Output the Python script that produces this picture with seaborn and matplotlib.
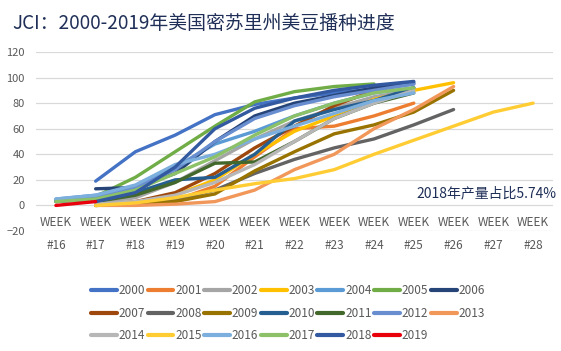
import matplotlib
matplotlib.use('Agg')
import matplotlib.pyplot as plt
import seaborn as sns
import numpy as np
import pandas as pd

nan = np.nan

# categories
week_nums = list(range(16, 29))
week_labels = ['WEEK\n#%d' % w for w in week_nums]

# planting progress (%), week 16 .. week 28
y2000 = [nan, 19, 42, 55, 71, 79, 84, 88, 91, 95, nan, nan, nan]
y2001 = [nan, 0, 1, 4, 15, 38, 60, 62, 70, 80, nan, nan, nan]
y2002 = [nan, 2, 6, 18, 35, 52, 66, 76, 85, 90, nan, nan, nan]
y2003 = [nan, 0, 2, 8, 20, 40, 58, 70, 83, 90, 96, nan, nan]
y2004 = [5, 8, 15, 30, 48, 58, 70, 80, 88, 92, nan, nan, nan]
y2005 = [3, 7, 22, 42, 62, 81, 89, 93, 95, nan, nan, nan, nan]
y2006 = [nan, 13, 14, 25, 50, 70, 80, 86, 92, 96, nan, nan, nan]
y2007 = [nan, 0, 3, 10, 25, 45, 62, 78, 90, nan, nan, nan, nan]
y2008 = [nan, 0, 1, 4, 12, 25, 36, 45, 52, 63, 75, nan, nan]
y2009 = [nan, 0, 1, 3, 9, 27, 42, 56, 63, 73, 90, nan, nan]
y2010 = [3, 5, 10, 20, 22, 40, 66, 75, 82, 92, nan, nan, nan]
y2011 = [nan, 3, 8, 18, 33, 34, 50, 68, 80, 88, nan, nan, nan]
y2012 = [4, 7, 14, 28, 50, 68, 78, 85, 90, 95, nan, nan, nan]
y2013 = [nan, 0, 0, 1, 3, 12, 28, 40, 60, 75, 93, nan, nan]
y2014 = [nan, 1, 3, 8, 18, 32, 50, 68, 80, 90, nan, nan, nan]
y2015 = [nan, 0, 2, 6, 12, 17, 21, 28, 40, 51, 62, 73, 80]
y2016 = [5, 8, 16, 32, 40, 52, 62, 72, 82, 88, nan, nan, nan]
y2017 = [3, 5, 12, 25, 38, 55, 70, 80, 88, 92, nan, nan, nan]
y2018 = [nan, 3, 10, 30, 60, 76, 84, 90, 94, 97, nan, nan, nan]
y2019 = [0, 3, nan, nan, nan, nan, nan, nan, nan, nan, nan, nan, nan]

years = [str(y) for y in range(2000, 2020)]
series = [y2000, y2001, y2002, y2003, y2004, y2005, y2006, y2007, y2008, y2009,
          y2010, y2011, y2012, y2013, y2014, y2015, y2016, y2017, y2018, y2019]

colors = ['#4472C4', '#ED7D31', '#A5A5A5', '#FFC000', '#5B9BD5', '#70AD47',
          '#264478', '#9E480E', '#636363', '#997300', '#255E91', '#43682B',
          '#698ED0', '#F1975A', '#B7B7B7', '#FFCD33', '#7CAFDD', '#8CC168',
          '#335AA1', '#E8000B']

rows = []
for yr, vals in zip(years, series):
    for i, v in enumerate(vals):
        if not np.isnan(v):
            rows.append({'week': i, 'year': yr, 'pct': v})
df = pd.DataFrame(rows)

sns.set_theme(style='white')
plt.rcParams['font.family'] = ['Noto Sans CJK SC', 'DejaVu Sans']

fig = plt.figure(figsize=(5.61, 3.51), dpi=100)
ax = fig.add_axes([36 / 561, 1 - 231 / 351, 517 / 561, 179 / 351])

sns.lineplot(data=df, x='week', y='pct', hue='year', hue_order=years,
             palette=colors, linewidth=2.4, ax=ax, sort=True,
             estimator=None)

ax.set_xlim(-0.5, 12.5)
ax.set_ylim(-20, 120)
ax.set_yticks(range(-20, 121, 20))
ax.set_xticks(range(len(week_labels)))
ax.set_xticklabels(week_labels, linespacing=2.05)
ax.set_xlabel('')
ax.set_ylabel('')
ax.grid(axis='y', color='#D9D9D9', linewidth=0.9)
ax.set_axisbelow(True)
for s in ax.spines.values():
    s.set_visible(False)
ax.tick_params(axis='y', labelsize=8, labelcolor='#595959', length=0, pad=8)
ax.tick_params(axis='x', labelsize=8.5, labelcolor='#595959', length=0, pad=-11)

# legend is filled row by row in the reference
handles, labels = ax.get_legend_handles_labels()
ncol = 7
order = [r * ncol + c for c in range(ncol) for r in range(3) if r * ncol + c < len(labels)]
leg = ax.legend([handles[i] for i in order], [labels[i] for i in order],
                loc='center', bbox_to_anchor=(0.513, 0.107),
                bbox_transform=fig.transFigure, ncol=ncol, frameon=False,
                fontsize=8.5, handlelength=2.2, handletextpad=0.15,
                columnspacing=0.2, labelspacing=0.8)
for t in leg.get_texts():
    t.set_color('#595959')
for h in leg.get_lines():
    h.set_linewidth(3)

fig.text(12 / 561, 1 - 23 / 351, 'JCI：2000-2019年美国密苏里州美豆播种进度',
         fontsize=13.6, color='#1F2F57', va='center', ha='left')
fig.text(556 / 561, 1 - 193 / 351, '2018年产量占比5.74%',
         fontsize=10, color='#1F2F57', va='center', ha='right')

fig.savefig('out.png', dpi=100)
